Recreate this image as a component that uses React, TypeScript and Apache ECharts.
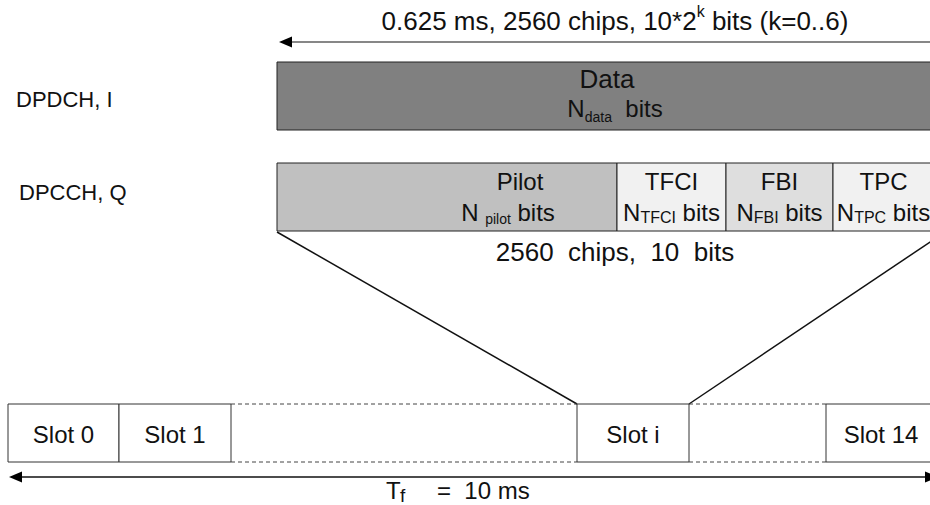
import React, { useEffect, useRef } from 'react';
import * as echarts from 'echarts';

// ---------- data (texts of the diagram) ----------
const topCaption = ['0.625 ms, 2560 chips, 10*2', 'k', ' bits (k=0..6)'];
const channelLabels = ['DPDCH, I', 'DPCCH, Q'];
const dataLabel = ['Data', 'N', 'data', '  bits'];
const fieldNames = ['Pilot', 'TFCI', 'FBI', 'TPC'];
const fieldSubs = ['pilot', 'TFCI', 'FBI', 'TPC'];
const slotCaption = '2560  chips,  10  bits';
const slotLabels = ['Slot 0', 'Slot 1', 'Slot i', 'Slot 14'];
const frameCaption = ['T', 'f', '=  10 ms'];

// ---------- layout (diagram units on hidden value axes) ----------
const W = 930;
const H = 505;
const fieldEdges = [277, 617, 726, 833, 934];
const fieldFills = ['#c0c0c0', '#f1f1f1', '#dedede', '#f1f1f1'];
const slotSpans = [[8, 119], [119, 231], [577, 689], [826, 936]];
const dashSpans = [[231, 577], [689, 826]];

const FONT = '"Liberation Sans", Arial, Helvetica, sans-serif';
const INK = '#111';

let measureCtx: CanvasRenderingContext2D | null = null;
function tw(text: string, size: number) {
  if (!measureCtx) measureCtx = document.createElement('canvas').getContext('2d');
  measureCtx!.font = `${size}px ${FONT}`;
  return measureCtx!.measureText(text).width;
}

type Piece = { t: string; s: number; dy: number };

export default function App() {
  const ref = useRef<HTMLDivElement>(null);
  useEffect(() => {
    if (!ref.current) return;
    const chart = echarts.init(ref.current, undefined, { renderer: 'svg' });

    const renderItem = (_params: any, api: any) => {
      const P = (x: number, y: number) => api.coord([x, y]);
      const S = (w: number, h: number) => api.size([w, h]);
      const children: any[] = [];

      const rect = (x0: number, y0: number, x1: number, y1: number, fill: string, stroke = '#222') => {
        const p = P(x0, y0);
        const s = S(x1 - x0, y1 - y0);
        children.push({
          type: 'rect',
          shape: { x: p[0], y: p[1], width: s[0], height: s[1] },
          style: { fill, stroke, lineWidth: 1 },
        });
      };
      const line = (x0: number, y0: number, x1: number, y1: number, lw = 1, dash?: number[], stroke = '#111') => {
        const a = P(x0, y0);
        const b = P(x1, y1);
        children.push({
          type: 'line',
          shape: { x1: a[0], y1: a[1], x2: b[0], y2: b[1] },
          style: { stroke, lineWidth: lw, lineDash: dash || null },
        });
      };
      const head = (tipX: number, y: number, dir: number) => {
        const len = 13;
        const half = 5.5;
        children.push({
          type: 'polygon',
          shape: {
            points: [P(tipX, y), P(tipX + dir * len, y - half), P(tipX + dir * len, y + half)],
          },
          style: { fill: '#000' },
        });
      };
      const run = (pieces: Piece[], x: number, y: number, align: 'left' | 'center') => {
        const widths = pieces.map((p) => tw(p.t, p.s));
        const total = widths.reduce((a, b) => a + b, 0);
        let cx = align === 'center' ? x - total / 2 : x;
        pieces.forEach((p, i) => {
          const pt = P(cx, y + p.dy);
          children.push({
            type: 'text',
            x: pt[0],
            y: pt[1],
            style: {
              text: p.t,
              fontSize: p.s,
              fontFamily: FONT,
              fill: INK,
              align: 'left',
              verticalAlign: 'middle',
            },
          });
          cx += widths[i];
        });
      };

      const F = 24; // main font size
      const SUB = 14;

      // top caption and arrow
      run(
        [
          { t: topCaption[0], s: 26, dy: 0 },
          { t: topCaption[1], s: 16, dy: -10 },
          { t: topCaption[2], s: 26, dy: 0 },
        ],
        615,
        21,
        'center'
      );
      line(285, 42, 960, 42, 1.2);
      head(279, 42, 1);

      // channel labels
      run([{ t: channelLabels[0], s: 22, dy: 0 }], 16, 99, 'left');
      run([{ t: channelLabels[1], s: 22, dy: 0 }], 19, 192, 'left');

      // DPDCH data box
      rect(fieldEdges[0], 62, fieldEdges[fieldEdges.length - 1], 130, '#808080');
      run([{ t: dataLabel[0], s: 26, dy: 0 }], 607, 79, 'center');
      run(
        [
          { t: dataLabel[1], s: F, dy: 0 },
          { t: dataLabel[2], s: SUB, dy: 9 },
          { t: dataLabel[3], s: F, dy: 0 },
        ],
        615,
        108,
        'center'
      );

      // DPCCH fields
      fieldNames.forEach((name, i) => {
        const x0 = fieldEdges[i];
        const x1 = fieldEdges[i + 1];
        rect(x0, 163, x1, 231, fieldFills[i]);
      });
      fieldNames.forEach((name, i) => {
        const x0 = fieldEdges[i];
        const x1 = fieldEdges[i + 1];
        const cx = i === 0 ? 520 : (x0 + x1) / 2;
        const cxSub = i === 0 ? 508 : (x0 + x1) / 2;
        run([{ t: name, s: F, dy: 0 }], cx, 181, 'center');
        run(
          [
            { t: i === 0 ? 'N ' : 'N', s: F, dy: 0 },
            { t: fieldSubs[i], s: i === 0 ? SUB : 16, dy: i === 0 ? 7 : 5 },
            { t: ' bits', s: F, dy: 0 },
          ],
          cxSub,
          212,
          'center'
        );
      });

      // slot caption
      run([{ t: slotCaption, s: 26, dy: 0 }], 615, 252, 'center');

      // zoom lines
      line(277, 232, 577, 404, 1.5);
      line(689, 404, 945, 232, 1.5);

      // slots
      dashSpans.forEach(([a, b]) => {
        line(a, 404, b, 404, 1, [4, 3], '#444');
        line(a, 462, b, 462, 1, [4, 3], '#444');
      });
      slotSpans.forEach(([a, b], i) => {
        rect(a, 404, b, 462, '#ffffff', '#333');
        run([{ t: slotLabels[i], s: F, dy: 0 }], (a + b) / 2, 434, 'center');
      });

      // frame arrow
      line(20, 477, 928, 477, 1.5);
      head(9, 477, 1);
      head(938, 477, -1);
      run([{ t: frameCaption[0], s: F, dy: 0 }], 386, 490, 'left');
      run([{ t: frameCaption[1], s: 19, dy: 5 }], 400, 490, 'left');
      run([{ t: frameCaption[2], s: F, dy: 0 }], 437, 490, 'left');

      return { type: 'group', children };
    };

    chart.setOption({
      animation: false,
      tooltip: { show: false },
      grid: { left: 0, right: 0, top: 0, bottom: 0 },
      xAxis: { type: 'value', min: 0, max: W, show: false },
      yAxis: { type: 'value', min: 0, max: H, inverse: true, show: false },
      series: [
        {
          type: 'custom',
          silent: true,
          clip: false,
          renderItem,
          data: [[0, 0]],
        },
      ],
    });
    return () => chart.dispose();
  }, []);

  return (
    <div
      ref={ref}
      style={{ position: 'absolute', left: 0, top: 0, width: W, height: H, background: '#fff' }}
    />
  );
}
